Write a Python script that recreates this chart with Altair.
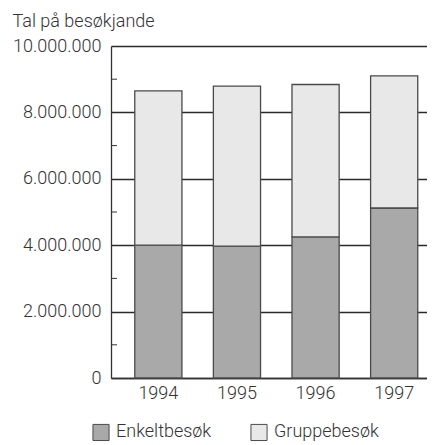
import altair as alt
import pandas as pd

years = ["1994", "1995", "1996", "1997"]
enkelt = [4000000, 3970000, 4250000, 5120000]
gruppe = [4650000, 4820000, 4590000, 3980000]
series = ["Enkeltbesøk", "Gruppebesøk"]
minor_ticks = [1000000, 3000000, 5000000, 7000000, 9000000]
y_ticks = [0, 2000000, 4000000, 6000000, 8000000, 10000000]

rows = []
for i, y in enumerate(years):
    rows.append({"year": y, "series": series[0], "value": enkelt[i], "ord": 0})
    rows.append({"year": y, "series": series[1], "value": gruppe[i], "ord": 1})
df = pd.DataFrame(rows)
minor_df = pd.DataFrame({"v": minor_ticks})

FONT = "Roboto"
TXT = "#333333"
W = 300

bars = alt.Chart(df).mark_bar(stroke="#4a4a4a", strokeWidth=1.3).encode(
    x=alt.X("year:N", sort=years,
            scale=alt.Scale(paddingInner=0.4, paddingOuter=0.21, align=0.72),
            axis=alt.Axis(title=None, labelAngle=0, ticks=False, labelPadding=6,
                          domainColor="#333", domainWidth=1.3, labelFontSize=18,
                          labelFontWeight=W, labelColor=TXT, labelFont=FONT)),
    y=alt.Y("value:Q", stack="zero",
            scale=alt.Scale(domain=[0, 10000000], nice=False),
            axis=alt.Axis(title=None, values=y_ticks, grid=True, gridColor="#2a2a2a",
                          gridWidth=1.3, ticks=False, domainColor="#333", domainWidth=1.3,
                          labelFontSize=18, labelFontWeight=W, labelColor=TXT, labelFont=FONT,
                          labelPadding=10,
                          labelExpr="replace(format(datum.value, ','), regexp(',', 'g'), '.')")),
    color=alt.Color("series:N", sort=series,
                    scale=alt.Scale(domain=series, range=["#a9a9a9", "#e8e8e8"]),
                    legend=alt.Legend(title=None, orient="none", direction="horizontal",
                                      legendX=-19, legendY=377, symbolType="square",
                                      symbolSize=260, symbolStrokeColor="#4a4a4a",
                                      symbolStrokeWidth=1, labelFontSize=18, labelColor=TXT,
                                      labelFontWeight=W, labelFont=FONT, columnPadding=36,
                                      labelOffset=6)),
    order=alt.Order("ord:Q"),
)

minor = alt.Chart(minor_df).mark_rule(color="#333", strokeWidth=1).encode(
    y="v:Q", x=alt.value(0), x2=alt.value(6)
)

chart = alt.layer(bars, minor).properties(
    width=316, height=332,
    title=alt.TitleParams("Tal på besøkjande", anchor="start", frame="bounds",
                          fontSize=18, font=FONT, fontWeight=W, color=TXT, offset=6),
    padding={"left": 4, "top": 5, "right": 0, "bottom": 0},
).configure_view(stroke=None)

chart.save("out.html", embed_options={"renderer": "svg", "actions": False})
